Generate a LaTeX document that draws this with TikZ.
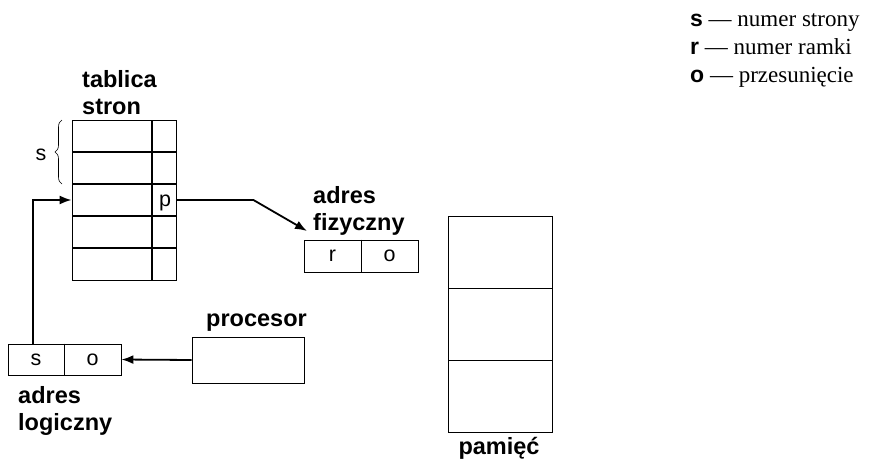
\documentclass[tikz,border=0pt]{standalone}
\usepackage{fontspec}
\setmainfont{Liberation Serif}
\setsansfont{Liberation Sans}
\usetikzlibrary{arrows.meta,decorations.pathreplacing}
\begin{document}
\begin{tikzpicture}[x=1pt,y=-1pt,
  thinbox/.style={draw,line width=0.9pt,inner sep=0pt},
  cell/.style={thinbox,minimum height=32pt,font=\fontsize{21.5}{25}\selectfont\sffamily},
  lbl/.style={inner sep=0pt,font=\fontsize{21.5}{25}\selectfont\sffamily},
  blab/.style={inner sep=0pt,align=left,font=\fontsize{23.5}{27}\selectfont\sffamily\bfseries},
  legend/.style={inner sep=0pt,anchor=base west,font=\fontsize{23}{27}\selectfont\rmfamily},
  divider/.style={line width=1.7pt},
  conn/.style={line width=1.8pt,-{Latex[length=12pt,width=9pt]}}
]
\path[use as bounding box] (0,0) rectangle (873,466);

% page table
\node[thinbox,minimum width=104pt,minimum height=160pt] (tab) at (124,200) {};
\foreach \yy in {152,184,216,248} \draw[divider] (72,\yy) -- (176,\yy);
\draw[divider] (152,120) -- (152,280);
\node[lbl] (p) at (165,203) {p};
\node[blab,anchor=north west] (tabl) at (82,70) {tablica\\stron};
\draw[line width=0.6pt,decorate,decoration={brace,amplitude=7pt}] (62,184) -- (62,120);
\node[lbl] (sb) at (41,155) {s};

% physical address
\node[cell,minimum width=57pt] (pr) at (332.5,256) {r};
\node[cell,minimum width=57pt] (po) at (389.5,256) {o};
\draw[divider] (pr.north east) -- (pr.south east);
\node[blab,anchor=north west] (fzl) at (313,186) {adres\\fizyczny};
\coordinate (fz) at (307,231);

% logical address
\node[cell,minimum width=56pt,minimum height=31pt] (ls) at (36,359.5) {s};
\node[cell,minimum width=57pt,minimum height=31pt] (lo) at (92.5,359.5) {o};
\draw[divider] (ls.north east) -- (ls.south east);
\node[blab,anchor=north west] (lgl) at (18,386) {adres\\logiczny};

% processor
\node[thinbox,minimum width=112pt,minimum height=46pt] (cpu) at (248,360) {};
\node[blab,anchor=base west] (cpul) at (206,326) {procesor};

% memory
\node[thinbox,minimum width=104pt,minimum height=216pt] (mem) at (500,324) {};
\draw[line width=0.9pt] (448,288) -- (552,288);
\draw[line width=0.9pt] (448,360) -- (552,360);
\node[blab,anchor=base] (meml) at (499,454) {pamięć};

% legend
\node[legend] (l1) at (690,26) {{\sffamily\bfseries s} — numer strony};
\node[legend] (l2) at (690,54) {{\sffamily\bfseries r} — numer ramki};
\node[legend] (l3) at (690,82) {{\sffamily\bfseries o} — przesunięcie};

% connectors
\draw[conn] ([xshift=-3pt]ls.north) |- (tab.west);
\draw[conn] (tab.east) -- ++(77,0) -- (fz);
\draw[conn] (cpu.west) -- (lo.east);
\end{tikzpicture}
\end{document}
